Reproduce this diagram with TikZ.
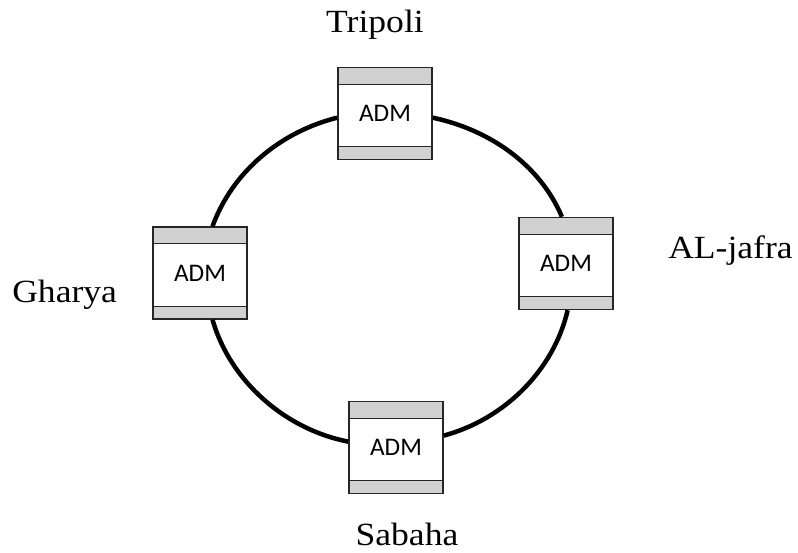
\documentclass[tikz,border=0pt]{standalone}
\usepackage{fontspec}
\setmainfont{Liberation Serif}
\newfontfamily\admfont{Carlito}
\newfontfamily\cityfont[FakeStretch=1.1]{Liberation Serif}

\begin{document}
\begin{tikzpicture}[x=0.025cm,y=-0.025cm,
   adm/.style={rectangle,draw=black!85,line width=1pt,fill=white,
      minimum width=2.35cm,minimum height=2.3cm,inner sep=0pt,
      font=\admfont\fontsize{18}{21}\selectfont,
      path picture={
         \fill[black!18] (path picture bounding box.north west) rectangle
            ([yshift=-0.42cm]path picture bounding box.north east);
         \fill[black!18] (path picture bounding box.south west) rectangle
            ([yshift=0.32cm]path picture bounding box.south east);
         \draw[black!85,line width=1pt]
            ([yshift=-0.42cm]path picture bounding box.north west) --
            ([yshift=-0.42cm]path picture bounding box.north east)
            ([yshift=0.32cm]path picture bounding box.south west) --
            ([yshift=0.32cm]path picture bounding box.south east);
      }},
   city/.style={font=\cityfont\fontsize{23}{27}\selectfont,inner sep=0pt},
   ring/.style={line width=3.2pt,looseness=0.9}]
   \useasboundingbox (0,0) rectangle (798,553);
   % ADM boxes
   \node[adm] (trip)   at (385,113.5) {ADM};
   \node[adm] (jafra)  at (566,263.5) {ADM};
   \node[adm] (sabaha) at (396,447.5) {ADM};
   \node[adm] (gharya) at (200,273)   {ADM};
   % city names
   \node[city,anchor=base]      (l_trip)   at (375,32)  {Tripoli};
   \node[city,anchor=base west] (l_jafra)  at (668,258) {AL-jafra};
   \node[city,anchor=base]      (l_sabaha) at (407,545) {Sabaha};
   \node[city,anchor=base west] (l_gharya) at (12,302)  {Gharya};
   % ring
   \path[ring]
   (trip.-5)     edge [out=-12,in=113] (jafra.95)
   (jafra.-88)   edge [out=-103,in=15] (sabaha.14)
   (sabaha.173)  edge [out=169,in=-74] (gharya.-75)
   (gharya.75)   edge [out=70,in=194]  (trip.185);
\end{tikzpicture}
\end{document}
